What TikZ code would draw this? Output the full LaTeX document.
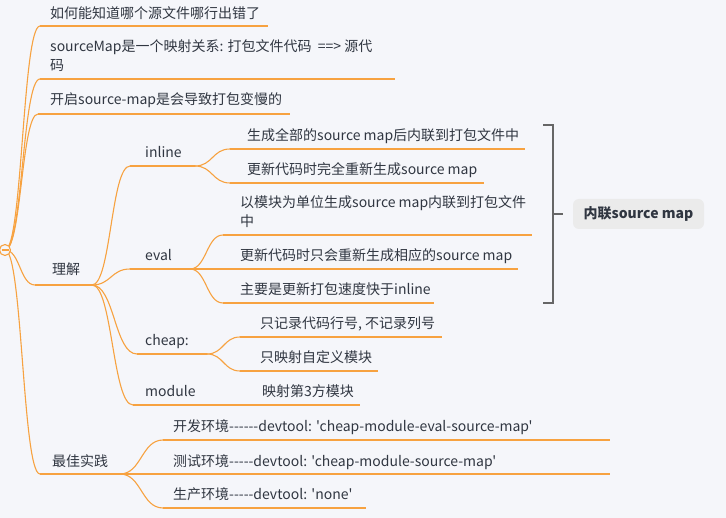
\documentclass[tikz,border=0pt]{standalone}
\usepackage{fontspec}
\setmainfont{Noto Sans CJK SC}[Ligatures=TeXOff]
\usetikzlibrary{calc}
\definecolor{mapbg}{HTML}{F5F6FA}
\definecolor{mapline}{HTML}{F7A240}
\definecolor{maptext}{HTML}{303641}
\definecolor{bracegray}{HTML}{666666}
\definecolor{summaryfill}{HTML}{EBEBEB}
% curved link between two named points
\newcommand{\maplink}[2]{
	\draw[link] let \p1=(#1), \p2=(#2) in (\p1) .. controls ({(\x1+\x2)/2},\y1) and ({(\x1+\x2)/2},\y2) .. (\p2);
}
% topic: name, underline from x, to x, underline y, text x, text base y (last line), text
\newcommand{\topic}[7]{
	\coordinate (#1-s) at (#2,#4);
	\coordinate (#1-e) at (#3,#4);
	\draw[uline] (#1-s) -- (#1-e);
	\node[topic] (#1) at (#5,#6) {#7};
}

\begin{document}
\begin{tikzpicture}[x=1pt, y=-1pt,
	topic/.style={anchor=base west, inner sep=0pt, text=maptext, font=\fontsize{14}{19}\selectfont, align=left},
	uline/.style={draw=mapline, line width=1.3pt},
	link/.style={draw=mapline, line width=1.1pt}]
%%%%%%%%%%%%%%%%%%

\fill[mapbg, use as bounding box] (0,0) rectangle (726,518);
\coordinate (root) at (5,250);

%Top level
\topic{why}{40}{268}{26}{50}{19}{如何能知道哪个源文件哪行出错了}
\topic{what}{40}{395}{79}{50}{71}{sourceMap是一个映射关系: 打包文件代码~~==> 源代\\码}
\topic{slow}{38}{290}{114}{50}{105}{开启source-map是会导致打包变慢的}
\topic{know}{35}{92}{285}{52}{275}{理解}
\topic{best}{40}{120}{474}{52}{467}{最佳实践}

%理解
\topic{inl}{130}{195}{166}{145}{158}{inline}
\topic{inlA}{230}{525}{149}{247}{141}{生成全部的source map后内联到打包文件中}
\topic{inlB}{230}{484}{183}{247}{175}{更新代码时完全重新生成source map}
\topic{ev}{130}{190}{269}{145}{261}{eval}
\topic{evA}{223}{532}{235}{240}{227}{以模块为单位生成source map内联到打包文件\\中}
\topic{evB}{190}{518}{269}{240}{261}{更新代码时只会重新生成相应的source map}
\topic{evC}{223}{434}{303}{240}{295}{主要是更新打包速度快于inline}
\topic{chp}{137}{207}{354}{145}{346}{cheap:}
\topic{chpA}{240}{442}{337}{260}{329}{只记录代码行号, 不记录列号}
\topic{chpB}{240}{378}{371}{260}{363}{只映射自定义模块}
\topic{mod}{133}{220}{405}{145}{397}{module}
\topic{modA}{220}{360}{405}{262}{397}{映射第3方模块}

%最佳实践
\topic{dev}{163}{610}{440}{173}{432}{开发环境------devtool: 'cheap-module-eval-source-map'}
\topic{test}{120}{610}{474}{173}{467}{测试环境-----devtool: 'cheap-module-source-map'}
\topic{prod}{163}{366}{508}{173}{500}{生产环境-----devtool: 'none'}

%Links
\maplink{root}{why-s}
\maplink{root}{what-s}
\maplink{root}{slow-s}
\maplink{root}{know-s}
\maplink{root}{best-s}
\maplink{know-e}{inl-s}
\maplink{know-e}{ev-s}
\maplink{know-e}{chp-s}
\maplink{know-e}{mod-s}
\maplink{inl-e}{inlA-s}
\maplink{inl-e}{inlB-s}
\maplink{ev-e}{evA-s}
\maplink{ev-e}{evC-s}
\maplink{chp-e}{chpA-s}
\maplink{chp-e}{chpB-s}
\maplink{best-e}{dev-s}
\maplink{best-e}{prod-s}

%Fold button
\node[circle, draw=mapline, fill=mapbg, line width=1.1pt, minimum size=11pt, inner sep=0pt] (fold) at (root) {};
\draw[mapline, line width=1.1pt] ($(fold.center)+(-3.5,0)$) -- ($(fold.center)+(3.5,0)$);

%Summary bracket
\coordinate (braceT) at (553,125);
\coordinate (braceB) at (553,303);
\coordinate (braceM) at (553,214);
\draw[bracegray, line width=2.4pt] ($(braceT)+(-10,0)$) -- (braceT) -- (braceB) -- ($(braceB)+(-10,0)$);
\draw[bracegray, line width=2.4pt] (braceM) -- ++(10,0);
\node[fill=summaryfill, rounded corners=6pt, minimum width=131pt, minimum height=30pt, inner sep=0pt, text=maptext, font=\fontsize{14}{19}\selectfont\bfseries] (summary) at (638.5,214) {内联source map};

\end{tikzpicture}
\end{document}
